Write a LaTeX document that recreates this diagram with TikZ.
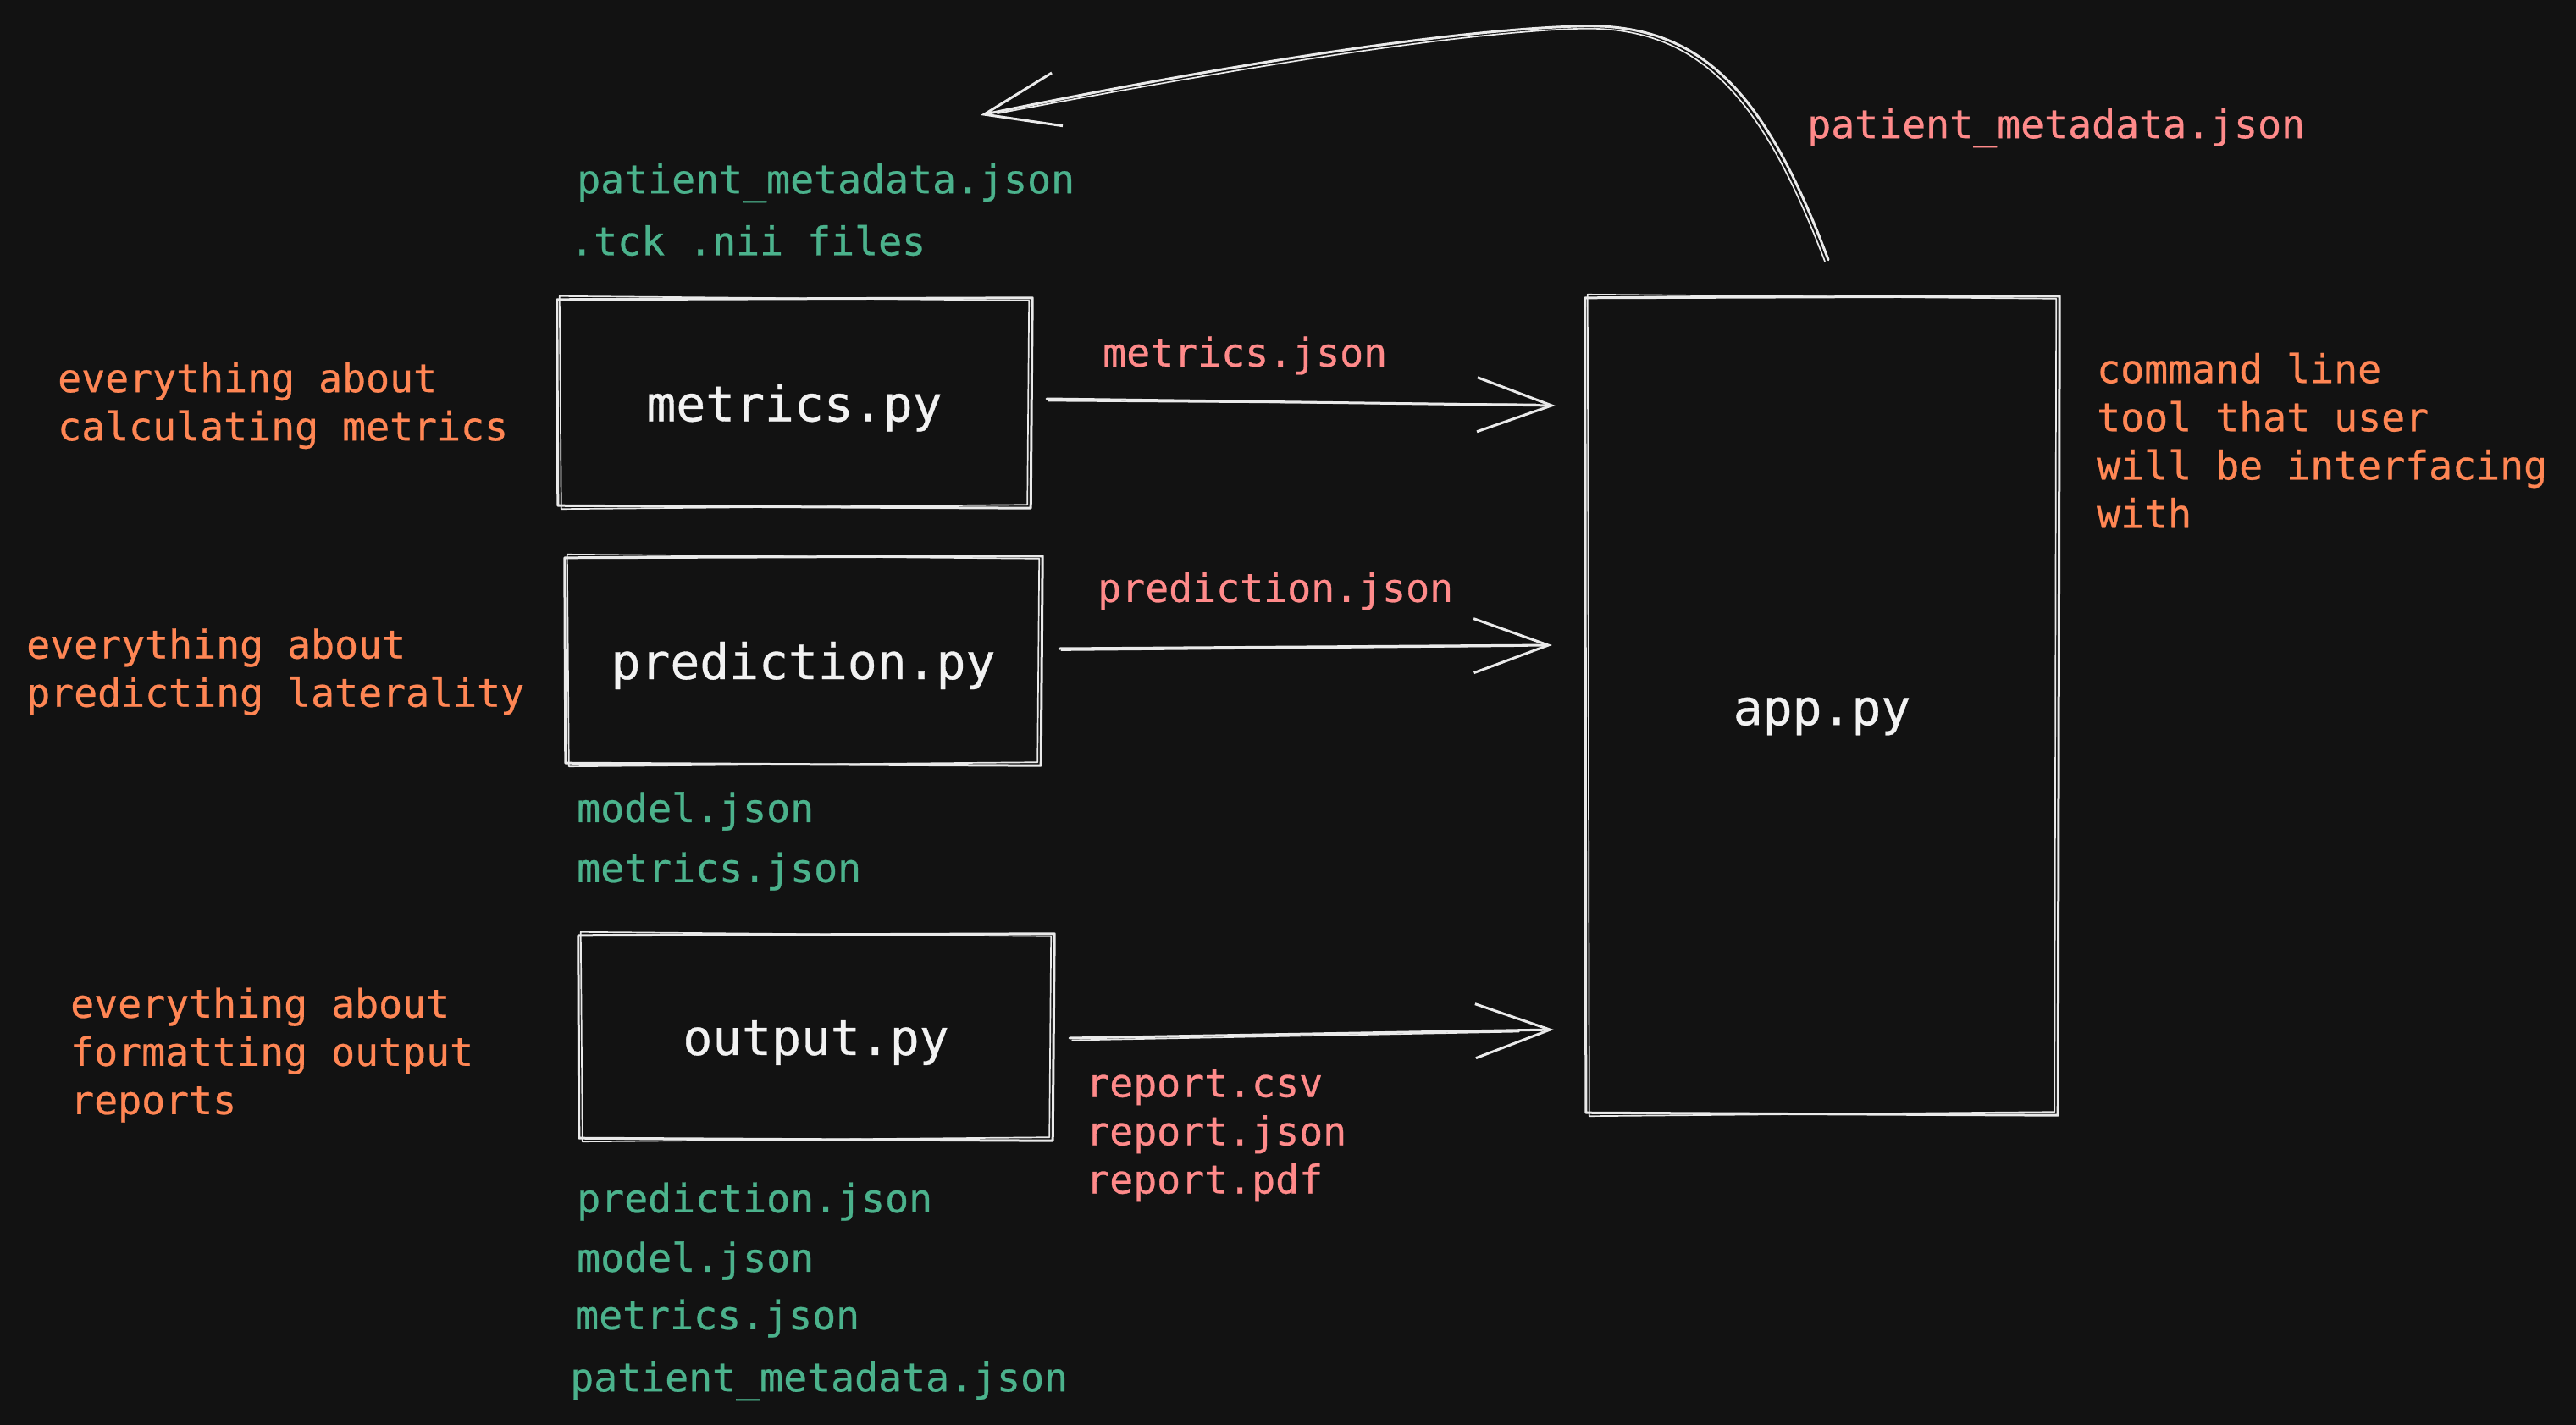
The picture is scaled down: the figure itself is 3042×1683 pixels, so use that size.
\documentclass[tikz,border=0pt]{standalone}
\usepackage{fontspec}
\setmainfont{DejaVu Sans Mono}[FakeBold=0.6]
\usetikzlibrary{arrows.meta}
\definecolor{bg}{HTML}{121212}
\definecolor{ink}{HTML}{EAEAEA}
\definecolor{txtw}{HTML}{F2F2F2}
\definecolor{grn}{HTML}{4BB28C}
\definecolor{pnk}{HTML}{FF8A8A}
\definecolor{org}{HTML}{FF8654}
\tikzset{
  sk/.style={draw=ink, line width=3pt, line join=round, line cap=round},
  skthin/.style={draw=ink, line width=1.7pt, line join=round, line cap=round},
  boxnode/.style={inner sep=0pt, text=txtw, font=\fontsize{58}{70}\selectfont},
  lbl/.style={inner sep=0pt, anchor=west, yshift=-5pt, font=\fontsize{46.5}{57}\selectfont, align=left},
  gr/.style={lbl, text=grn},
  pk/.style={lbl, text=pnk},
  og/.style={lbl, text=org},
  barb/.style={-{Straight Barb[length=88pt,width=64pt,line width=3pt]}},
}
\newcommand{\lowered}[2]{\raisebox{-#1pt}[\height][\depth]{#2}}
\newcommand{\roughbox}[1]{%
  \draw[sk] ([shift={(-2,1)}]#1.north west) -- ([shift={(3,-1)}]#1.north east) -- ([shift={(1,2)}]#1.south east) -- ([shift={(-1,-1)}]#1.south west) -- cycle;
  \draw[skthin] ([shift={(1,-3)}]#1.north west) -- ([shift={(-1,2)}]#1.north east) -- ([shift={(-3,-2)}]#1.south east) -- ([shift={(3,3)}]#1.south west) -- cycle;}
\begin{document}
\begin{tikzpicture}[x=1pt,y=-1pt]
\fill[bg] (0,0) rectangle (3042,1683);
\useasboundingbox (0,0) rectangle (3042,1683);

% boxes
\node[boxnode, minimum width=556pt, minimum height=245pt] (m) at (938,475.5) {\lowered{6}{metrics.py}};
\node[boxnode, minimum width=559pt, minimum height=244pt] (p) at (948.5,780) {\lowered{6}{prediction.py}};
\node[boxnode, minimum width=557pt, minimum height=241pt] (o) at (963.5,1224.5) {\lowered{7}{output.py}};
\node[boxnode, minimum width=555pt, minimum height=964pt] (app) at (2151.5,833) {\lowered{13}{app.py}};
\roughbox{m}
\roughbox{p}
\roughbox{o}
\roughbox{app}

% left descriptions
\node[og] (dm) at (68,474) {everything about\\calculating metrics};
\node[og] (dp) at (31,788.5) {everything about\\predicting laterality};
\node[og] (do) at (83,1241) {everything about\\formatting output\\reports};
\node[og] (dapp) at (2476,515) {command line\\tool that user\\will be interfacing\\with};

% inputs (green)
\node[gr] (gm1) at (681,211) {patient\_metadata.json};
\node[gr] (gm2) at (673,279) {.tck .nii files};
\node[gr] (gp1) at (681,953) {model.json};
\node[gr] (gp2) at (681,1024) {metrics.json};
\node[gr] (go1) at (681,1414) {prediction.json};
\node[gr] (go2) at (681,1484) {model.json};
\node[gr] (go3) at (679,1552) {metrics.json};
\node[gr] (go4) at (673,1626) {patient\_metadata.json};

% outputs (pink)
\node[pk] (km) at (1302,415) {metrics.json};
\node[pk] (kp) at (1296,693) {prediction.json};
\node[pk] (ko) at (1282,1336) {report.csv\\report.json\\report.pdf};
\node[pk] (kapp) at (2134,146) {patient\_metadata.json};

% arrows
\draw[sk, barb] ([shift={(20,-4.5)}]m.east) -- ([shift={(-37,3.5)}]app.west |- m.east);
\draw[skthin] ([shift={(22,-2)}]m.east) -- ([shift={(-60,2)}]app.west |- m.east);
\draw[sk, barb] ([shift={(23,-14)}]p.east) -- ([shift={(-41,-18)}]app.west |- p.east);
\draw[skthin] ([shift={(25,-12)}]p.east) -- ([shift={(-70,-17)}]app.west |- p.east);
\draw[sk, barb] ([shift={(21,1.5)}]o.east) -- ([shift={(-39,-8.5)}]app.west |- o.east);
\draw[skthin] ([shift={(24,4)}]o.east) -- ([shift={(-80,-6)}]app.west |- o.east);

% curved arrow from app back to metrics inputs
\coordinate (ctip) at (1158,136);
\coordinate (cstart) at ([shift={(7.5,-44)}]app.north);
\draw[sk, barb] (cstart) .. controls (2085,110) and (2010,25) .. (1862,31) .. controls (1700,36) and (1420,82) .. (ctip);
\draw[skthin] ([shift={(-4,2)}]cstart) .. controls (2080,112) and (2005,28) .. (1860,34) .. controls (1700,40) and (1420,88) .. ([shift={(20,-2)}]ctip);
\end{tikzpicture}
\end{document}
